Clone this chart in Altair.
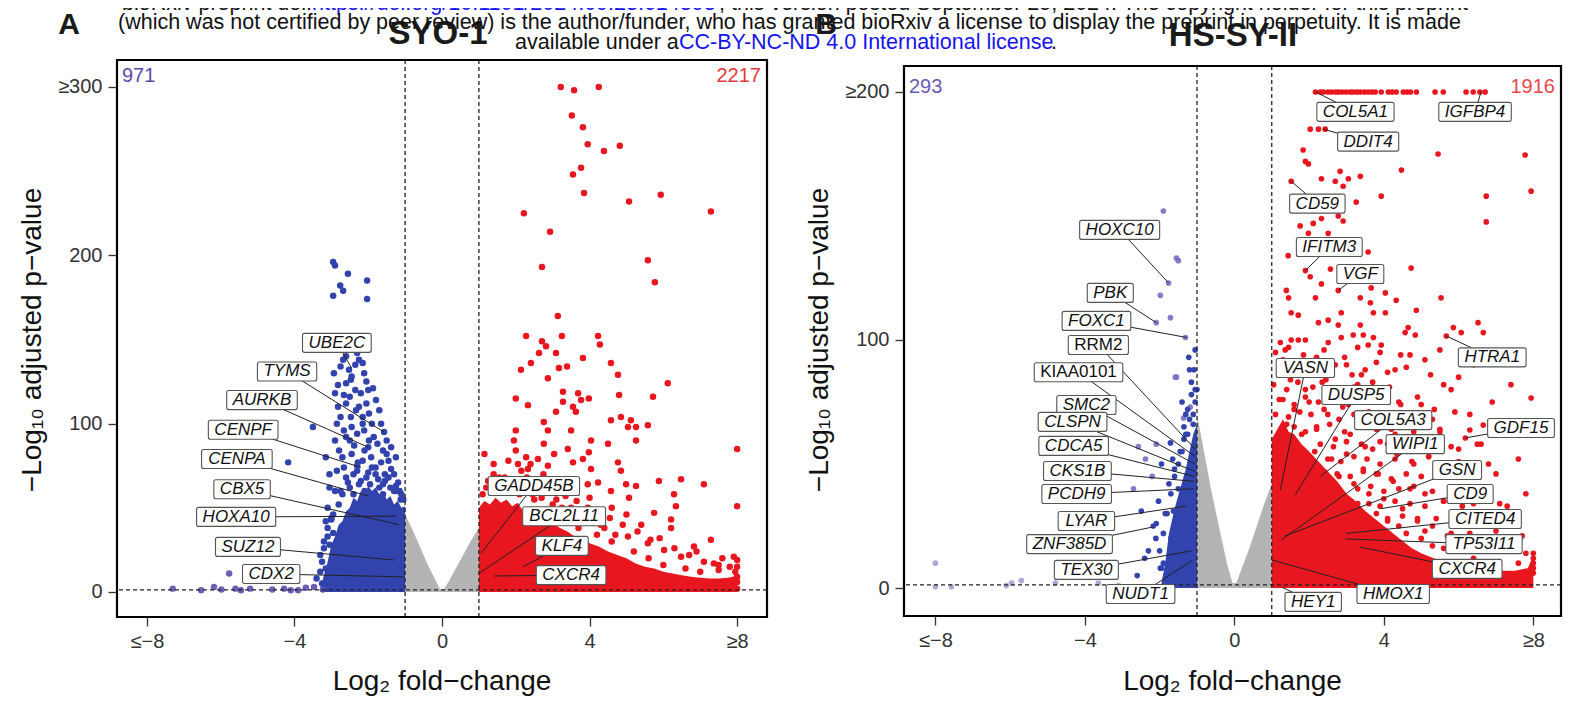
import altair as alt
import pandas as pd

FONT = "Liberation Sans, Arial, Helvetica, sans-serif"
BLUE = "#3343ad"
LAV = "#7a6cc4"
RED = "#e8171f"
GREY = "#b4b4b4"

# ---------------- Panel A : SYO-1 ----------------
A_blue_x = [-2.95, -2.9, -2.55, -2.03, -2.76, -2.68, -2.95, -2.03,
            -2.2, -2.6, -2.25, -2.68, -2.52, -2.93, -2.11, -2.47, -2.82, -1.87, -2.2, -2.66,
            -1.79, -2.82, -2.33, -1.98, -2.47, -1.65, -1.57, -1.38, -2.11, -2.66, -1.98, -2.38,
            -2.79, -1.92, -2.28, -1.65, -2.66, -1.38, -2.0, -1.73, -2.55, -1.19, -3.0, -3.5,
            -4.17, -3.0, -2.4, -2.35, -2.05, -2.6, -2.15, -1.85, -2.5, -1.5, -2.1, -1.8, -2.4,
            -1.55, -2.9, -2.8, -3.1, -3.2, -3.3, -3.15, -3.4, -1.3, -1.1, -1.6, -2.2,
            -3.25, -3.05, -2.95, -3.3, -2.3, -1.45, -1.25, -2.7, -1.05, -1.15]
A_blue_y = [196, 194, 189, 185, 182, 179, 176, 174,
            144, 140, 138, 138, 132, 130, 130, 126, 123, 121, 118, 117,
            114, 110, 108, 106, 104, 100, 95, 86, 96, 96, 90, 87,
            84, 80, 77, 77, 74, 73, 71, 67, 65, 65, 43, 98,
            77, 44, 150, 135, 125, 112, 100, 92, 90, 82, 84, 74, 70,
            70, 60, 52, 38, 30, 22, 14, 8, 60, 58, 64, 66,
            5, 28, 35, 12, 75, 68, 63, 58, 55, 60]
A_blue_x2 = [-2.3, -2.45, -2.75, -2.15, -2.6, -2.35, -2.9, -2.05, -2.5, -2.25, -2.75, -2.45,
             -2.15, -1.9, -2.6, -2.3, -2.0, -1.75, -2.9, -2.7, -2.45, -2.15, -1.9, -1.6,
             -1.45, -2.85, -2.6, -2.3, -2.05, -1.8, -1.55, -1.3, -3.05, -2.75, -2.5, -2.25,
             -1.95, -1.7, -1.4, -1.2, -3.1, -2.95, -3.15, -1.12, -2.55, -2.0, -1.7, -2.85,
             -3.15, -3.05, -1.5, -1.25, -2.4, -2.1, -1.85, -1.6, -3.2, -3.25, -3.1]
A_blue_y2 = [142, 128, 134, 136, 124, 120, 118, 112, 116, 110, 104, 98,
             104, 100, 92, 94, 86, 88, 90, 80, 82, 78, 74, 84,
             78, 72, 68, 72, 68, 70, 66, 70, 62, 60, 62, 64,
             64, 62, 62, 60, 50, 46, 42, 55, 145, 120, 108, 100,
             80, 70, 90, 80, 58, 60, 58, 58, 26, 18, 33]
A_purple_x = [-7.3, -6.53, -6.18, -5.98, -5.6, -5.45, -5.2, -4.28, -4.1, -3.69,
              -3.47, -3.23, -3.9, -4.6, -5.77]
A_purple_y = [2, 1, 3, 1.5, 2, 1, 2, 2, 1, 2.5, 3, 1.5, 1, 1.5, 11]
A_red_x = [3.22, 3.58, 4.25, 3.52, 3.82, 3.95, 4.39, 4.82, 3.77, 3.55, 3.85, 5.07, 5.93,
           7.29, 2.22, 2.93, 5.58, 2.71, 5.77, 3.14, 2.28, 3.25, 4.23, 4.28, 2.71, 2.82,
           2.63, 3.09, 3.82, 4.58, 2.41, 2.14, 3.17, 3.39, 4.77, 2.87, 6.12, 3.28, 3.69,
           2.0, 2.33, 3.77, 3.98, 3.28, 4.8, 5.72, 3.55, 3.63, 3.09, 2.76, 4.58, 4.85,
           5.12, 5.04, 5.26, 5.58, 2.0, 2.87, 3.5, 1.95, 4.04, 5.26, 4.5, 2.76, 3.41, 3.98,
           8.0, 2.28, 3.04, 2.6, 3.82, 3.55, 4.77, 2.06, 2.87, 2.33, 4.04, 4.85, 6.48,
           5.88, 4.23, 3.95, 7.1, 4.99, 5.26, 4.58, 6.29, 5.07, 8.0, 6.34, 5.75, 6.21,
           6.21, 5.04, 5.58, 6.83, 7.29, 6.02, 6.48, 7.91, 7.37, 8.0,
           1.2, 1.5, 1.8, 2.1, 2.5, 1.4, 1.7, 2.9, 3.3, 3.7, 4.2, 4.6, 5.2, 5.6, 6.0,
           6.6, 7.0, 7.5, 7.95, 8.0, 8.0, 8.0, 8.0, 4.3, 3.9, 3.5, 3.1, 2.6, 2.3]
A_red_y = [300, 298, 300, 283, 276, 266, 262, 265, 252, 248, 237, 232, 236,
           226, 225, 214, 197, 193, 184, 164, 152, 152, 152, 147, 149, 146,
           142, 142, 139, 136, 136, 132, 133, 134, 129, 127, 124, 119, 118,
           115, 111, 114, 115, 113, 117, 116, 110, 107, 107, 101, 102, 104,
           102, 98, 98, 99, 96, 96, 96, 90, 90, 90, 88, 88, 85, 83,
           85, 80, 82, 79, 79, 77, 77, 76, 75, 73, 73, 72, 67,
           66, 65, 64, 64, 64, 63, 60, 58, 56, 51, 51, 47, 43,
           38, 33, 29, 27, 31, 25, 21, 21, 17, 2,
           62, 64, 60, 58, 55, 70, 68, 48, 44, 38, 34, 30, 24, 20, 16,
           14, 12, 13, 12, 9, 6, 15, 19, 40, 45, 50, 55, 62, 68]
A_red_x2 = [1.1, 1.35, 1.6, 1.9, 2.2, 2.45, 2.7, 3.0, 3.25, 3.5, 3.8, 4.1, 4.4, 4.7,
            1.25, 1.55, 1.85, 2.15, 2.5, 2.8, 3.05, 3.35, 3.65, 3.95, 4.25, 4.55, 4.9,
            5.3, 5.65, 6.3, 6.7, 7.1, 7.5, 7.8, 1.4, 1.8, 2.4, 2.0, 1.15, 3.3, 2.75,
            4.0, 4.6, 5.0, 5.4, 5.9, 6.9, 7.6]
A_red_y2 = [58, 60, 62, 59, 61, 58, 56, 52, 50, 47, 44, 41, 38, 34,
            66, 68, 66, 72, 66, 62, 60, 57, 54, 50, 47, 44, 40,
            36, 31, 26, 22, 18, 16, 15, 76, 78, 76, 84, 82, 66, 70,
            56, 50, 46, 40, 32, 24, 20]
A_grey_x = [-1.0, -0.8, -0.6, -0.4, -0.2, -0.05, 0.05, 0.2, 0.4, 0.6, 0.8, 1.0]
A_grey_y = [46, 37, 27, 17, 8, 1.5, 1.5, 7, 15, 23, 31, 38]
A_barea_x = [-3.3, -3.2, -3.1, -3.0, -2.9, -2.8, -2.7, -2.6, -2.5, -2.4, -2.3, -2.2, -2.1,
             -2.0, -1.9, -1.8, -1.7, -1.6, -1.5, -1.4, -1.3, -1.2, -1.1, -1.0]
A_barea_y = [2, 10, 18, 28, 33, 40, 42, 48, 50, 56, 54, 60, 58, 63, 60, 62, 58, 60, 55,
             57, 52, 54, 50, 51]
A_rarea_x = [1.0, 1.15, 1.3, 1.45, 1.6, 1.75, 1.9, 2.05, 2.2, 2.35, 2.5, 2.65, 2.8, 3.0,
             3.2, 3.4, 3.6, 3.8, 4.0, 4.25, 4.5, 4.75, 5.0, 5.25, 5.5, 5.75, 6.0, 6.25,
             6.5, 6.75, 7.0, 7.25, 7.5, 7.75, 7.9, 8.0]
A_rarea_y = [50, 54, 52, 56, 53, 55, 51, 53, 48, 50, 46, 47, 43, 41, 38, 36, 33, 32, 29,
             27, 24, 22, 20, 17, 15, 14, 12, 11, 10, 9, 8.5, 8, 8, 8.5, 9, 15]

A_genes = ["UBE2C", "TYMS", "AURKB", "CENPF", "CENPA", "CBX5", "HOXA10", "SUZ12", "CDX2",
           "GADD45B", "BCL2L11", "KLF4", "CXCR4"]
A_pt_x = [-2.45, -1.57, -2.0, -2.2, -2.0, -1.17, -1.25, -1.3, -1.03, 1.06, 1.0, 2.2, 1.41]
A_pt_y = [133, 95, 86, 74, 57, 40, 45, 19, 9, 23, 11, 15, 9.5]
A_lab_x = [-2.85, -4.2, -4.88, -5.39, -5.56, -5.42, -5.58, -5.26, -4.63, 2.49, 3.31, 3.25, 3.5]
A_lab_y = [148, 131, 114, 96.4, 79, 61, 44.6, 26.8, 10.7, 63, 45, 27.4, 10]
A_upright = []

# ---------------- Panel B : HS-SY-II ----------------
B_lav_x = [-1.9, -1.76, -1.98, -1.5, -1.55, -2.09, -1.71, -1.58, -1.31, -1.55, -1.18, -1.36,
           -2.57, -2.38, -2.7, -2.2, -2.09]
B_lav_y = [152, 123, 118, 132, 133, 107, 109, 85, 101, 85, 73, 68.5,
           57, 52, 40, 45, 58]
B_blue_x = [-1.71, -2.03, -2.49, -2.17, -1.63, -1.98, -2.09, -1.9,
            -1.05, -1.15, -1.25, -1.45, -1.6, -1.75, -1.5, -1.85, -1.7, -1.55, -1.8, -2.3,
            -1.4, -1.2, -1.1, -1.95, -1.3, -1.12, -1.65, -1.35,
            -1.1, -1.2, -1.05, -1.15, -1.3, -1.4, -1.5, -1.6, -1.7, -1.8, -1.9, -2.0, -1.95,
            -1.75, -1.55, -1.45, -2.1, -2.4, -2.6, -1.25, -1.35, -1.08, -1.0, -1.22, -1.05]
B_blue_y = [58.5, 35, 31, 25, 31, 8, 26, 10,
            80, 78, 62, 55, 48, 42, 40, 30, 20, 15, 5, 15,
            75, 88, 66, 50, 70, 45, 52, 60,
            70, 68, 75, 83, 62, 55, 50, 45, 38, 30, 22, 15, 8,
            12, 28, 22, 20, 12, 5, 72, 65, 88, 80, 93, 96]
B_faded_x = [-8.0, -8.0, -7.57, -5.96, -5.7, -4.79, -3.64, -6.1, -3.1]
B_faded_y = [10, 0.5, 0.5, 2, 3, 2, 2, 1, 1]
B_red_x = [2.17, 2.3, 2.38, 2.5, 2.59, 2.7, 2.78, 2.88, 2.99, 3.1, 3.18, 3.28, 3.37, 3.48,
           3.58, 3.68, 3.77, 3.93, 4.12, 4.22, 4.33, 4.52, 4.62, 4.71, 4.87, 5.37, 5.59,
           6.2, 6.39, 6.57, 6.71,
           2.03, 2.25, 2.43, 1.84, 1.9, 1.98, 5.45, 7.78, 7.94, 6.74, 6.74, 4.47, 2.83,
           2.33, 2.7, 2.91, 3.05, 3.37, 1.52, 3.93, 3.26, 1.76, 2.11, 2.33, 2.78, 2.91,
           1.98, 2.51, 1.44, 3.58, 1.9, 2.57, 4.73, 2.03, 2.33, 2.78, 3.66, 4.04, 1.39,
           1.45, 2.17, 3.37, 3.64, 4.33, 5.53, 1.52, 1.71, 2.86, 3.72, 4.04, 4.87, 2.25,
           2.51, 2.78, 3.37, 4.65, 5.86, 6.52, 6.07, 6.66, 5.67, 4.84, 4.57, 3.18, 3.45,
           3.72, 3.93, 2.51, 2.86, 1.23, 1.36, 1.52, 1.71, 1.9, 3.58,
           1.3, 1.75, 2.2, 2.6, 3.0, 3.4, 3.8, 4.3, 4.7, 5.1, 5.5, 6.0, 6.4,
           1.5, 1.9, 2.35, 2.8, 3.2, 3.6, 4.0, 4.45, 4.9, 5.35, 5.8, 6.3, 6.9, 7.4,
           1.2, 1.6, 2.0, 2.5, 2.9, 3.35, 3.75, 4.2, 4.6, 5.05, 5.5, 6.0, 6.6, 7.2,
           1.4, 1.8, 2.2, 2.7, 3.1, 3.5, 3.9, 4.35, 4.8, 5.2, 5.7, 6.2, 6.8, 7.6,
           1.25, 1.7, 2.15, 2.6, 3.0, 3.45, 3.85, 4.25, 4.7, 5.1, 5.6, 6.1, 6.6, 7.1, 7.8,
           2.4, 2.8, 3.2, 3.6, 4.0, 4.5, 4.9, 5.3, 5.8, 6.3, 6.8, 7.3, 7.8, 8.0, 8.0,
           8.0, 8.0, 8.0, 7.94, 6.66, 6.18, 6.3, 4.1, 5.0, 5.6, 6.4, 7.0, 7.6, 3.3, 2.9,
           3.8, 4.4]
B_red_y = [200] * 31 + \
          [185, 185, 185, 176.6, 172, 171, 175, 174.6, 160, 158, 147.6, 168.5, 168,
           165, 164, 162, 165, 166, 164, 158, 155.6, 146, 147, 149, 150, 148,
           143, 143, 134, 135.5, 128, 128.6, 129, 125.5, 122.6, 120, 121, 119, 120,
           117, 117, 117, 115, 116, 117, 111, 110, 111, 111, 111, 112, 107,
           108, 106, 106, 105, 105, 107, 103, 103, 101.6, 102, 103, 102, 102,
           101, 98, 99, 101, 99, 96, 100, 100, 100, 98,
           92, 90, 93, 88, 90, 86, 91, 88, 94, 92, 96, 85, 90,
           84, 80, 83, 78, 81, 76, 79, 74, 77, 72, 80, 70, 75, 82,
           76, 72, 75, 70, 73, 67, 70, 64, 67, 60, 63, 56, 58, 62,
           66, 62, 65, 60, 62, 57, 59, 54, 50, 53, 48, 45, 50, 52,
           58, 56, 55, 52, 54, 48, 46, 43, 40, 38, 35, 33, 30, 34, 38,
           47, 45, 42, 38, 36, 32, 28, 25, 22, 19, 17, 15, 14, 12, 10,
           8, 6, 14, 76.6, 65.7, 60.5, 63.7, 27, 20, 16, 12, 10, 10, 34, 38,
           30, 25]
B_red_x2 = [1.1, 1.45, 1.85, 2.4, 2.95, 3.3, 3.9, 4.45,
            1.2, 1.55, 1.95, 2.3, 2.7, 3.15, 3.5, 4.1, 4.6, 5.25,
            1.05, 1.4, 1.7, 2.1, 2.45, 2.9, 3.3, 3.7, 4.15, 5.6,
            1.3, 1.6, 1.9, 2.25, 2.6, 3.05, 3.45, 3.95, 4.4, 5.0,
            1.1, 1.45, 1.75, 2.05, 2.4, 2.8, 3.2, 3.6, 4.05, 4.55, 5.3, 5.9,
            1.3, 1.6, 1.9, 2.2, 2.55, 2.95, 3.35, 3.8, 4.3, 4.8, 5.5,
            2.3, 2.65, 3.0, 3.4, 3.7, 4.1, 4.5, 5.0, 5.8, 6.5,
            2.5, 2.85, 3.2, 3.55, 3.9, 4.3, 4.75, 5.2, 6.0,
            2.75, 3.1, 3.45, 3.8, 4.2, 4.6, 5.0, 5.5, 6.3, 7.0,
            3.3, 3.65, 4.0, 4.4, 4.8, 5.3, 5.9,
            3.6, 3.9, 4.3, 4.7, 5.1, 5.6, 6.4, 7.3,
            4.1, 4.5, 4.9, 5.4, 6.0, 6.7,
            4.6, 5.1, 5.7, 6.3, 7.0, 7.7,
            5.3, 5.9, 6.6, 7.4]
B_red_y2 = [95, 97, 94, 96, 93, 97, 95, 94,
            88, 86, 89, 87, 90, 86, 88, 87, 89, 86,
            82, 80, 83, 81, 84, 80, 82, 83, 81, 82,
            76, 74, 77, 75, 78, 74, 76, 77, 75, 74,
            70, 69, 71, 70, 72, 68, 70, 71, 69, 70, 68, 71,
            64, 65, 63, 64, 66, 63, 65, 64, 62, 63, 64,
            58, 57, 59, 58, 56, 58, 57, 59, 57, 58,
            52, 51, 53, 52, 50, 52, 51, 53, 51,
            46, 45, 47, 46, 44, 46, 45, 47, 45, 46,
            40, 41, 39, 40, 41, 39, 40,
            34, 33, 35, 34, 33, 35, 34, 33,
            28, 29, 27, 28, 29, 27,
            22, 23, 21, 22, 23, 21,
            17, 18, 16, 17]
B_grey_x = [-1.0, -0.8, -0.6, -0.4, -0.2, -0.05, 0.05, 0.2, 0.4, 0.6, 0.8, 1.0]
B_grey_y = [70, 54, 38, 24, 10, 2, 2, 8, 16, 25, 34, 42]
B_barea_x = [-1.95, -1.85, -1.75, -1.6, -1.45, -1.3, -1.2, -1.1, -1.0]
B_barea_y = [2, 10, 22, 32, 40, 48, 55, 62, 66]
B_rarea_x = [1.0, 1.15, 1.3, 1.45, 1.6, 1.8, 2.0, 2.25, 2.5, 2.75, 3.0, 3.25, 3.5, 3.75,
             4.0, 4.25, 4.5, 4.75, 5.0, 5.5, 6.0, 6.5, 7.0, 7.5, 7.85, 8.0]
B_rarea_y = [60, 64, 68, 63, 62, 58, 55, 51, 47, 43, 38, 35, 31, 28, 25, 22, 19, 16, 14,
             11, 9, 8, 7, 7, 8, 13]

B_genes = ["HOXC10", "PBK", "FOXC1", "RRM2", "KIAA0101", "SMC2", "CLSPN", "CDCA5", "CKS1B",
           "PCDH9", "LYAR", "ZNF385D", "TEX30", "NUDT1", "COL5A1", "IGFBP4", "DDIT4", "CD59",
           "IFITM3", "VGF", "HTRA1", "VASN", "DUSP5", "COL5A3", "WIPI1", "GDF15", "GSN", "CD9",
           "CITED4", "TP53I11", "CXCR4", "HMOX1", "HEY1"]
B_pt_x = [-1.76, -2.09, -1.27, -1.05, -1.05, -1.06, -1.06, -1.07, -1.08, -1.1, -1.3, -2.18,
          -1.14, -1.14, 2.17, 6.6, 2.38, 1.52, 1.9, 2.78, 5.67, 1.23, 1.63, 2.3, 1.26, 6.18,
          1.36, 3.93, 2.99, 2.97, 3.37, 1.0, 1.26]
B_pt_y = [123, 107, 101, 56, 53, 50, 47, 45, 43, 40, 33, 24.6, 15, 11, 200, 200, 185, 164,
          128, 120, 101.6, 39.5, 37.5, 45, 19.4, 60.5, 21, 32, 22, 19.8, 16.5, 11.3, 0.4]
B_lab_x = [-3.07, -3.32, -3.69, -3.64, -4.17, -3.96, -4.33, -4.3, -4.2, -4.22, -3.96, -4.41,
           -3.96, -2.51, 3.24, 6.44, 3.58, 2.22, 2.54, 3.37, 6.9, 1.9, 3.26, 4.25, 4.84, 7.67,
           5.96, 6.31, 6.71, 6.68, 6.23, 4.25, 2.11]
B_lab_y = [144.4, 119, 107.7, 98, 87, 73.8, 67, 57.3, 47.2, 37.9, 27, 17.7, 7.3, -2.4, 192,
           192, 180, 155, 137.5, 126.6, 93, 88.7, 77.8, 67.7, 58, 64.5, 47.6, 37.9, 27.8,
           17.7, 7.7, -2.4, -5.6]
B_upright = ["RRM2", "KIAA0101"]

# ------------- text --------------
HEADER_1 = ["bioRxiv preprint doi: ", "https://doi.org/10.1101/2024.09.23.614393",
            "; this version posted September 25, 2024. The copyright holder for this preprint"]
HEADER_2 = ("(which was not certified by peer review) is the author/funder, who has granted "
            "bioRxiv a license to display the preprint in perpetuity. It is made")
HEADER_3 = ["available under a", "CC-BY-NC-ND 4.0 International license", "."]
HFS = 21.5

# Arial-like glyph widths (em) used for the label box sizes
CW = {"A": .667, "B": .667, "C": .722, "D": .722, "E": .667, "F": .611, "G": .778, "H": .722,
      "I": .278, "J": .5, "K": .667, "L": .556, "M": .833, "N": .722, "O": .778, "P": .667,
      "Q": .778, "R": .722, "S": .667, "T": .611, "U": .722, "V": .667, "W": .944, "X": .667,
      "Y": .667, "Z": .611}
LFS = 17


def text_w(s, fs):
    return sum(CW.get(c, 0.556) for c in s) * fs


def txt(s, x, y, size, color="#111", weight="normal", align="center", baseline="middle",
        angle=0, style="normal"):
    kw = dict(fontSize=size, font=FONT, color=color, fontWeight=weight, align=align,
              baseline=baseline, fontStyle=style)
    if angle:
        kw["angle"] = angle
    return alt.Chart(pd.DataFrame({"t": [s]})).mark_text(**kw).encode(
        x=alt.value(x), y=alt.value(y), text="t:N")


def panel(P):
    W, H = P["W"], P["H"]
    xs = alt.Scale(domain=P["xdom"], nice=False, zero=False)
    ys = alt.Scale(domain=P["ydom"], nice=False, zero=False)
    common = dict(title=None, grid=False, domain=False, tickSize=9, tickColor="#333",
                  tickWidth=1.3, labelFontSize=20, labelColor="#333", labelFont=FONT)
    xaxis = alt.Axis(values=[-8, -4, 0, 4, 8], labelPadding=5,
                     labelExpr="datum.value <= -8 ? '≤−8' : datum.value >= 8 ? '≥8' : datum.label",
                     **common)
    yaxis = alt.Axis(values=P["yticks"], labelPadding=6, labelExpr=P["ylabexpr"], **common)

    def X(f):
        return alt.X(f, type="quantitative", scale=xs, axis=xaxis)

    def Y(f):
        return alt.Y(f, type="quantitative", scale=ys, axis=yaxis)

    layers = []

    def area(xv, yv, color, interp):
        df = pd.DataFrame({"x": xv, "y": yv, "y0": 0})
        return alt.Chart(df).mark_area(color=color, interpolate=interp, opacity=1).encode(
            x=X("x"), y=Y("y"), y2=alt.Y2("y0"))

    layers.append(area(P["grey"][0], P["grey"][1], GREY, "linear"))
    layers.append(area(P["barea"][0], P["barea"][1], BLUE, "linear"))
    layers.append(area(P["rarea"][0], P["rarea"][1], RED, "linear"))

    for (xv, yv, col, op) in P["points"]:
        df = pd.DataFrame({"x": xv, "y": yv})
        layers.append(alt.Chart(df).mark_circle(size=P["size"], color=col, opacity=op).encode(
            x=X("x"), y=Y("y")))

    # threshold lines
    layers.append(alt.Chart(pd.DataFrame({"x": [-1, 1]})).mark_rule(
        strokeDash=[4, 3], color="#222", strokeWidth=1.3).encode(
        x=X("x"), y=alt.value(P["ftop"]), y2=alt.value(H)))
    layers.append(alt.Chart(pd.DataFrame({"y": [1.3]})).mark_rule(
        strokeDash=[4, 3], color="#222", strokeWidth=1.3).encode(y=Y("y")))

    # labels
    g, px_, py_, lx, ly = P["labels"]
    hw = [(text_w(s, LFS) + 12) / 2 / P["pxx"] for s in g]
    hh = 9.5 / P["pxy"]
    lab = pd.DataFrame({"gene": g, "px": px_, "py": py_, "lx": lx, "ly": ly,
                        "x1": [a - b for a, b in zip(lx, hw)], "x2": [a + b for a, b in zip(lx, hw)],
                        "y1": [a - hh for a in ly], "y2": [a + hh for a in ly],
                        "up": [s in P["upright"] for s in g]})
    layers.append(alt.Chart(lab).mark_rule(color="#222", strokeWidth=1).encode(
        x=X("px"), y=Y("py"), x2=alt.X2("lx"), y2=alt.Y2("ly")))
    layers.append(alt.Chart(lab).mark_rect(fill="white", stroke="#555", strokeWidth=1.1,
                                           cornerRadius=2).encode(
        x=X("x1"), x2=alt.X2("x2"), y=Y("y1"), y2=alt.Y2("y2")))
    layers.append(alt.Chart(lab[~lab.up]).mark_text(fontSize=LFS, font=FONT, fontStyle="italic",
                                                    color="#111").encode(
        x=X("lx"), y=Y("ly"), text="gene:N"))
    if lab.up.any():
        layers.append(alt.Chart(lab[lab.up]).mark_text(fontSize=LFS, font=FONT,
                                                       color="#111").encode(
            x=X("lx"), y=Y("ly"), text="gene:N"))

    # frame
    layers.append(alt.Chart(pd.DataFrame({"a": [0]})).mark_rect(
        filled=False, stroke="black", strokeWidth=2.2).encode(
        x=alt.value(0), x2=alt.value(W), y=alt.value(P["ftop"]), y2=alt.value(H)))

    # counts
    c1, c1col, c2, c2col, cy = P["counts"]
    layers.append(txt(c1, 5, cy, 20, c1col, align="left"))
    layers.append(txt(c2, W - 6, cy, 20, c2col, align="right"))

    # titles
    layers.append(txt(P["title"], P["title_x"], P["title_y"], 33, "#1a1a1a", weight="bold"))
    layers.append(txt(P["letter"], P["letter_x"], -35, 30, "#1a1a1a", weight="bold"))
    layers.append(txt("Log₂ fold−change", W / 2, 630, 28, "#111", baseline="alphabetic"))
    layers.append(txt("−Log₁₀ adjusted p−value", P["ytitle_x"], 280, 28, "#111", angle=270))

    layers.extend(P.get("extra", []))
    return alt.layer(*layers).properties(width=W, height=H)


# header text lives in panel A's coordinate frame (its plot area starts at page x=117, y=60)
header = [
    txt(HEADER_1[0], 195, -50, HFS, "#111", align="right", baseline="alphabetic"),
    txt(HEADER_1[1], 195, -50, HFS, "#1414f0", align="left", baseline="alphabetic"),
    txt(HEADER_1[2], 602, -50, HFS, "#111", align="left", baseline="alphabetic"),
    txt(HEADER_2, 1, -31, HFS, "#111", align="left", baseline="alphabetic"),
    txt(HEADER_3[0], 398, -11, HFS, "#111", align="left", baseline="alphabetic"),
    txt(HEADER_3[1], 562, -11, HFS, "#1414f0", align="left", baseline="alphabetic"),
    txt(HEADER_3[2], 934, -11, HFS, "#111", align="left", baseline="alphabetic"),
    # invisible anchor fixing the top-left corner of the drawing
    alt.Chart(pd.DataFrame({"a": [0]})).mark_rule(opacity=0, strokeOpacity=0).encode(
        x=alt.value(-109), y=alt.value(-75), y2=alt.value(-74)),
]

PA = dict(W=650, H=557, xdom=[-8.81, 8.81], ydom=[-14.85, 316.0], pxx=36.875, pxy=1.6833,
          ftop=0, yticks=[0, 100, 200, 300],
          ylabexpr="datum.value >= 300 ? '≥300' : datum.label",
          grey=(A_grey_x, A_grey_y), barea=(A_barea_x, A_barea_y), rarea=(A_rarea_x, A_rarea_y),
          points=[(A_purple_x, A_purple_y, "#5b4fb0", 0.9),
                  (A_blue_x + A_blue_x2, A_blue_y + A_blue_y2, BLUE, 1),
                  (A_red_x + A_red_x2, A_red_y + A_red_y2, RED, 1)],
          size=42, labels=(A_genes, A_pt_x, A_pt_y, A_lab_x, A_lab_y), upright=A_upright,
          counts=("971", "#5a4aa8", "2217", "#e23a3e", 16),
          title="SYO-1", title_x=321, title_y=-26, letter="A", letter_x=-48,
          ytitle_x=-84, extra=header)
PB = dict(W=657, H=556, xdom=[-8.84, 8.74], ydom=[-11.29, 212.9], pxx=37.375, pxy=2.48,
          ftop=6, yticks=[0, 100, 200],
          ylabexpr="datum.value >= 200 ? '≥200' : datum.label",
          grey=(B_grey_x, B_grey_y), barea=(B_barea_x, B_barea_y), rarea=(B_rarea_x, B_rarea_y),
          points=[(B_faded_x, B_faded_y, "#9a92cc", 0.8), (B_lav_x, B_lav_y, LAV, 0.9),
                  (B_blue_x, B_blue_y, BLUE, 1),
                  (B_red_x + B_red_x2, B_red_y + B_red_y2, RED, 1)],
          size=32, labels=(B_genes, B_pt_x, B_pt_y, B_lab_x, B_lab_y), upright=B_upright,
          counts=("293", "#6a5ab8", "1916", "#e84848", 27),
          title="HS-SY-II", title_x=329, title_y=-24, letter="B", letter_x=-78,
          ytitle_x=-84)

chart = alt.hconcat(panel(PA), panel(PB), spacing=137, bounds="flush").properties(
    padding={"left": 0, "top": -23, "right": 0, "bottom": 0}
).configure_view(strokeWidth=0)

chart.save("out.html", embed_options={"renderer": "svg", "actions": False})
